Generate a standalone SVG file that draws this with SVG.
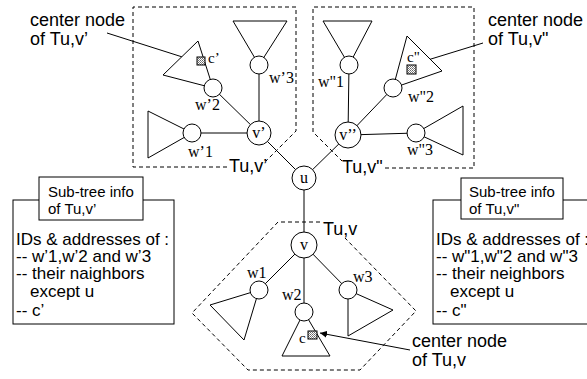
<svg xmlns="http://www.w3.org/2000/svg" width="587" height="379" viewBox="0 0 587 379">
<style>
.s{font-family:"Liberation Sans",Arial,sans-serif;fill:#000}
.big{font-size:18px}
.mid{font-size:17px}
.sm{font-size:15px}
.t{font-family:"Liberation Serif","Times New Roman",serif;font-size:16px;fill:#000}
.tc{font-family:"Liberation Serif","Times New Roman",serif;font-size:16px;fill:#000;text-anchor:middle}
.ln{stroke:#000;stroke-width:1;fill:none}
.tri{stroke:#000;stroke-width:1;fill:#fff}
.nd{stroke:#000;stroke-width:1;fill:#fff}
.dash{stroke:#000;stroke-width:1;fill:none;stroke-dasharray:4,3}
.box{stroke:#000;stroke-width:1;fill:#fff}
.sq{stroke:#000;stroke-width:1;fill:url(#dots)}
</style>
<defs>
<pattern id="dots" width="2" height="2" patternUnits="userSpaceOnUse">
<rect width="2" height="2" fill="#fff"/>
<rect width="1" height="1" fill="#666"/>
<rect x="1" y="1" width="1" height="1" fill="#888"/>
</pattern>
<marker id="ah" viewBox="0 0 10 10" refX="10" refY="5" markerWidth="7" markerHeight="7" orient="auto" markerUnits="userSpaceOnUse">
<path d="M0,0 L10,5 L0,10 z" fill="#000"/>
</marker>
</defs>
<rect width="587" height="379" fill="#fff"/>

<g id="regions">
<path class="dash" d="M227 167 H133 V7 H296 V131 L266 161"/>
<path class="dash" d="M385 168 H474 V7 H313 V132 L342 161"/>
<path class="dash" d="M320 222 H278 L192 313 L248 370 H360 L416 311 L345 238"/>
</g>

<g id="connectors">
<line class="ln" x1="304" y1="178" x2="259" y2="133"/>
<line class="ln" x1="304" y1="178" x2="348" y2="135"/>
<line class="ln" x1="304" y1="178" x2="304" y2="245"/>
<line class="ln" x1="259" y1="133" x2="192" y2="133"/>
<line class="ln" x1="259" y1="133" x2="213" y2="88"/>
<line class="ln" x1="259" y1="133" x2="259" y2="65"/>
<line class="ln" x1="348" y1="135" x2="349" y2="65"/>
<line class="ln" x1="348" y1="135" x2="393" y2="88"/>
<line class="ln" x1="348" y1="135" x2="416" y2="133"/>
<line class="ln" x1="304" y1="245" x2="259" y2="290"/>
<line class="ln" x1="304" y1="245" x2="304" y2="312"/>
<line class="ln" x1="304" y1="245" x2="348" y2="290"/>
<line class="ln" x1="107" y1="33" x2="195" y2="61" marker-end="url(#ah)"/>
<line class="ln" x1="483" y1="43" x2="418" y2="63" marker-end="url(#ah)"/>
<line class="ln" x1="410" y1="350" x2="320" y2="333" marker-end="url(#ah)"/>
</g>

<g id="tri-w1p"><path class="tri" d="M192 133 L148 111 L148 158 Z"/></g>
<g id="tri-w2p"><path class="tri" d="M213 88 L163 75 L198 41 Z"/></g>
<g id="tri-w3p"><path class="tri" d="M259 65 L233 21 L287 21 Z"/></g>
<g id="tri-w1pp"><path class="tri" d="M349 65 L323 21 L372 21 Z"/></g>
<g id="tri-w2pp"><path class="tri" d="M393 88 L407 36 L442 71 Z"/></g>
<g id="tri-w3pp"><path class="tri" d="M416 133 L463 106 L463 155 Z"/></g>
<g id="tri-w1"><path class="tri" d="M259 290 L210 305 L244 340 Z"/></g>
<g id="tri-w2"><path class="tri" d="M304 312 L282 356 L330 356 Z"/></g>
<g id="tri-w3"><path class="tri" d="M348 290 L348 336 L393 310 Z"/></g>

<g id="node-u"><circle class="nd" cx="304" cy="178" r="12"/><text class="tc" x="304" y="183">u</text></g>
<g id="node-vp"><circle class="nd" cx="259" cy="133" r="12"/><text class="tc" x="259" y="138">v’</text></g>
<g id="node-vpp"><circle class="nd" cx="348" cy="135" r="13"/><text class="tc" x="348" y="140">v’’</text></g>
<g id="node-v"><circle class="nd" cx="304" cy="245" r="13"/><text class="tc" x="304" y="250">v</text></g>

<g id="node-w1p"><circle class="nd" cx="192" cy="133" r="9"/><text class="t" x="188" y="157">w’1</text></g>
<g id="node-w2p"><circle class="nd" cx="213" cy="88" r="9"/><text class="t" x="195" y="110">w’2</text></g>
<g id="node-w3p"><circle class="nd" cx="259" cy="65" r="9"/><text class="t" x="269" y="83">w’3</text></g>
<g id="node-w1pp"><circle class="nd" cx="349" cy="65" r="9"/><text class="t" x="318" y="87">w"1</text></g>
<g id="node-w2pp"><circle class="nd" cx="393" cy="88" r="9"/><text class="t" x="408" y="102">w"2</text></g>
<g id="node-w3pp"><circle class="nd" cx="416" cy="133" r="9"/><text class="t" x="407" y="155">w"3</text></g>
<g id="node-w1"><circle class="nd" cx="259" cy="290" r="9"/><text class="t" x="247" y="278">w1</text></g>
<g id="node-w2"><circle class="nd" cx="304" cy="312" r="9"/><text class="t" x="282" y="300">w2</text></g>
<g id="node-w3"><circle class="nd" cx="348" cy="290" r="9"/><text class="t" x="353" y="282">w3</text></g>

<g id="center-cp"><rect class="sq" x="197" y="57" width="8" height="8"/><text class="t" x="208" y="63" style="font-size:15px">c’</text></g>
<g id="center-cpp"><rect class="sq" x="407" y="65" width="9" height="9"/><text class="t" x="407" y="62" style="font-size:15px">c"</text></g>
<g id="center-c"><rect class="sq" x="308" y="331" width="9" height="8"/><text class="t" x="299" y="343" style="font-size:15px">c</text></g>

<g id="labels">
<text class="s big" x="229" y="172">Tu,v’</text>
<text class="s big" x="342" y="173">Tu,v"</text>
<text class="s big" x="323" y="235">Tu,v</text>
<text class="s big" x="30" y="26">center node</text>
<text class="s big" x="30" y="45">of Tu,v’</text>
<text class="s big" x="488" y="26">center node</text>
<text class="s big" x="488" y="45">of Tu,v"</text>
<text class="s big" x="412" y="347">center node</text>
<text class="s big" x="412" y="366">of Tu,v</text>
</g>

<g id="info-left">
<rect class="box" x="13" y="200" width="161" height="124"/>
<rect class="box" x="39" y="177" width="104" height="43"/>
<text class="s sm" x="48" y="197">Sub-tree info</text>
<text class="s sm" x="48" y="214">of Tu,v’</text>
<text class="s mid" x="16" y="245">IDs &amp; addresses of :</text>
<text class="s mid" x="16" y="262">-- w’1,w’2 and w’3</text>
<text class="s mid" x="16" y="279">-- their naighbors</text>
<text class="s mid" x="30" y="297">except u</text>
<text class="s mid" x="16" y="316">-- c’</text>
</g>

<g id="info-right">
<rect class="box" x="433" y="200" width="170" height="124"/>
<rect class="box" x="461" y="178" width="102" height="41"/>
<text class="s sm" x="469" y="197">Sub-tree info</text>
<text class="s sm" x="469" y="214">of Tu,v"</text>
<text class="s mid" x="436" y="245">IDs &amp; addresses of :</text>
<text class="s mid" x="436" y="262">-- w"1,w"2 and w"3</text>
<text class="s mid" x="436" y="279">-- their neighbors</text>
<text class="s mid" x="450" y="297">except u</text>
<text class="s mid" x="436" y="316">-- c"</text>
</g>
</svg>
